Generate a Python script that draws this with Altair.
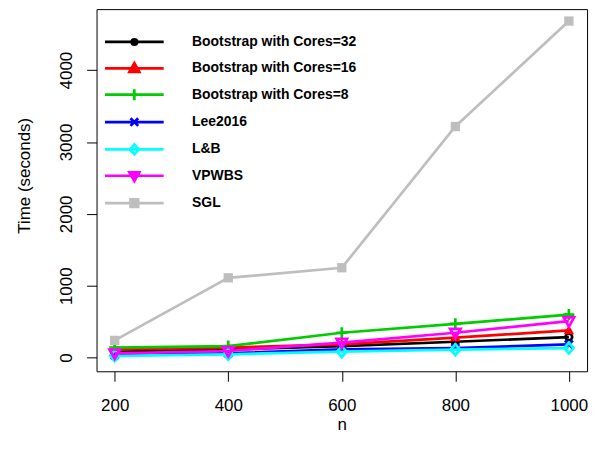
import altair as alt
import pandas as pd

# ---- data ----
n_values = [200, 400, 600, 800, 1000]
series_names = [
    "Bootstrap with Cores=32",
    "Bootstrap with Cores=16",
    "Bootstrap with Cores=8",
    "Lee2016",
    "L&B",
    "VPWBS",
    "SGL",
]
boot32 = [80, 115, 161, 221, 286]
boot16 = [115, 138, 184, 277, 378]
boot8 = [138, 161, 346, 470, 599]
lee2016 = [35, 60, 115, 133, 184]
lb = [25, 46, 83, 110, 133]
vpwbs = [60, 92, 208, 346, 507]
sgl = [240, 1110, 1250, 3215, 4682]
all_times = [boot32, boot16, boot8, lee2016, lb, vpwbs, sgl]
y_ticks = [0, 1000, 2000, 3000, 4000]

# ---- styles ----
series_colors = ["#000000", "#FF0000", "#00CD00", "#0000FF", "#00FFFF", "#FF00FF", "#BEBEBE"]
marker_paths = [
    "M0.6,0A0.6,0.6 0 1,1 -0.6,0A0.6,0.6 0 1,1 0.6,0",
    "M0,-1L0.95,0.7L-0.95,0.7Z",
    "M-1,0L1,0M0,-1L0,1",
    "M-0.72,-0.72L0.72,0.72M-0.72,0.72L0.72,-0.72",
    "M0,-1L0.85,0L0,1L-0.85,0Z",
    "M0,1L0.95,-0.7L-0.95,-0.7Z",
    "M-0.85,-0.85H0.85V0.85H-0.85Z",
]
marker_filled = [False, True, False, False, False, False, True]
seg = "M-5.36,0L5.36,0 "
legend_paths = [
    seg + "M0.5,0A0.5,0.5 0 1,1 -0.5,0A0.5,0.5 0 1,1 0.5,0",
    seg + "M0,-0.95L0.9,0.65L-0.9,0.65Z M0,-0.4L0.4,0.35L-0.4,0.35Z",
    seg + "M0,-1L0,1",
    seg + "M-0.7,-0.7L0.7,0.7M-0.7,0.7L0.7,-0.7",
    seg + "M0,-0.9L0.8,0L0,0.9L-0.8,0Z",
    seg + "M0,0.95L0.9,-0.65L-0.9,-0.65Z M0,0.4L0.4,-0.35L-0.4,-0.35Z",
    seg + "M-0.7,-0.7H0.7V0.7H-0.7Z M-0.3,-0.3H0.3V0.3H-0.3Z",
]

rows = []
for name, times in zip(series_names, all_times):
    for n, t in zip(n_values, times):
        rows.append({"n": n, "series": name, "time": t})
table = pd.DataFrame(rows)

FONT = "Liberation Sans"
color_scale = alt.Scale(domain=series_names, range=series_colors)

x_enc = alt.X(
    "n:Q",
    scale=alt.Scale(domain=[168, 1032], nice=False, zero=False),
    axis=alt.Axis(
        values=n_values, format="d", title="n",
        labelBaseline="alphabetic", labelPadding=29, labelFlush=False, labelOverlap=False,
        titleX=246.5, titleY=59, titleBaseline="alphabetic",
    ),
)
y_enc = alt.Y(
    "time:Q",
    scale=alt.Scale(domain=[-190, 4848], nice=False, zero=False),
    axis=alt.Axis(
        values=y_ticks, format="d", title="Time (seconds)",
        labelAngle=270, labelAlign="center", labelBaseline="alphabetic",
        labelPadding=15, labelFlush=False, labelOverlap=False,
        titleAngle=270, titleAlign="center", titleBaseline="alphabetic",
        titleX=-67.5, titleY=167,
    ),
)

layers = []
for name, path, filled in zip(series_names, marker_paths, marker_filled):
    pred = alt.FieldEqualPredicate(field="series", equal=name)
    line = (
        alt.Chart()
        .transform_filter(pred)
        .mark_line(strokeWidth=2.7)
        .encode(x=x_enc, y=y_enc,
                color=alt.Color("series:N", scale=color_scale, legend=None),
                order="n:Q")
    )
    pts = (
        alt.Chart()
        .transform_filter(pred)
        .mark_point(shape=path, size=121, filled=filled, strokeWidth=2.7, opacity=1)
        .encode(x=x_enc, y=y_enc,
                color=alt.Color("series:N", scale=color_scale, legend=None))
    )
    layers += [line, pts]

leg = alt.Legend(
    orient="none", legendX=31, legendY=26,
    symbolSize=121, symbolStrokeWidth=2.7, symbolOpacity=1,
    labelFont=FONT, labelFontSize=14, labelFontWeight="bold", labelColor="black",
    labelOffset=51, rowPadding=6.5, padding=0, labelLimit=400,
)
legend_layer = (
    alt.Chart()
    .transform_filter("false")
    .mark_point(size=121, filled=False, strokeWidth=2.7, opacity=1)
    .encode(
        x=x_enc, y=y_enc,
        color=alt.Color("series:N", scale=color_scale, legend=leg, title=None),
        shape=alt.Shape("series:N",
                        scale=alt.Scale(domain=series_names, range=legend_paths),
                        legend=leg, title=None),
    )
)
layers.append(legend_layer)

chart = (
    alt.layer(*layers, data=table)
    .resolve_legend(color="independent", shape="independent")
    .properties(
        width=493, height=364,
        autosize=alt.AutoSizeParams(type="none"),
        padding={"left": 89, "top": 0, "right": 10, "bottom": 80},
        background="white",
    )
    .configure_view(stroke="black", strokeWidth=1)
    .configure_axis(
        domain=False, grid=False,
        tickColor="black", tickSize=10, tickWidth=1,
        labelFont=FONT, labelFontSize=17, labelColor="black",
        titleFont=FONT, titleFontSize=17, titleFontWeight="normal", titleColor="black",
    )
)

chart.save("out.html", embed_options={"renderer": "svg", "actions": False})
